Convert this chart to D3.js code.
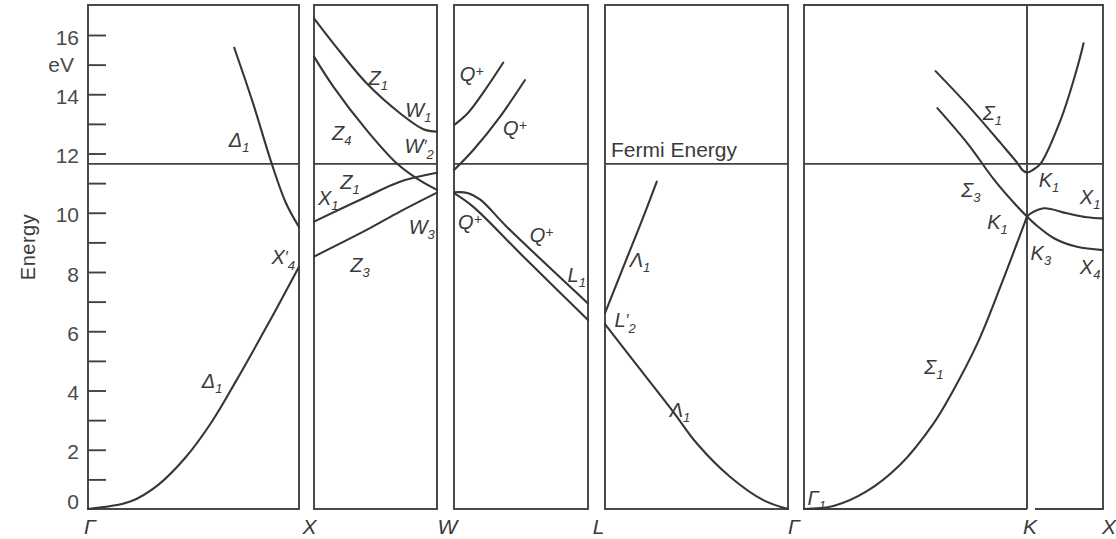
<!DOCTYPE html>
<html>
<head>
<meta charset="utf-8">
<script src="https://cdn.jsdelivr.net/npm/d3@7"></script>
<style>
  html, body { margin: 0; padding: 0; background: #fff; }
  svg { display: block; }
  .frame { fill: none; stroke: #424242; stroke-width: 1.9; }
  .band { fill: none; stroke: #363636; stroke-width: 2.1; stroke-linejoin: round; stroke-linecap: round; }
  .fermi { stroke: #424242; stroke-width: 1.8; }
  .tick line { stroke: #424242; stroke-width: 1.9; }
  .num { font-family: "Liberation Sans", Arial, sans-serif; font-size: 21px; fill: #4a4a4a; }
  .blabel { font-family: "Liberation Sans", Arial, sans-serif; font-style: italic; font-size: 20px; fill: #3a3a3a; }
  .plabel { font-family: "Liberation Sans", Arial, sans-serif; font-style: italic; font-size: 21px; fill: #3a3a3a; }
  .title { font-family: "Liberation Sans", Arial, sans-serif; font-size: 20px; fill: #3a3a3a; }
</style>
</head>
<body>
<svg id="chart" width="1116" height="539"></svg>
<script>
// Band structure of aluminium along Γ–X–W–L–Γ–K–X, energies in eV.

// Path segments and symmetry points along the bottom
const segmentNames = ["ΓX", "XW", "WL", "LΓ", "ΓKX"];
const pointLabels = ["Γ", "X", "W", "L", "Γ", "K", "X"];

// Energy axis
const energyTicks = d3.range(1, 17);
const energyLabels = [0, 2, 4, 6, 8, 10, 12, 14, 16];
const fermiEnergy = 11.65;

// Bands as [k, E]; k runs 0→1 along each segment (ΓKX: Γ=0, K=1, X=2)
const gxDelta1Lower = [[0, 0], [0.2, 0.25], [0.33, 0.8], [0.46, 1.72], [0.59, 2.98], [0.70, 4.3], [0.85, 6.2], [1, 8.18]];
const gxDelta1Upper = [[0.693, 15.57], [0.782, 13.70], [0.871, 11.65], [0.938, 10.33], [1, 9.52]];

const xwZ1Upper = [[0, 16.56], [0.157, 15.72], [0.428, 14.37], [0.699, 13.36], [0.889, 12.82], [1, 12.74]];
const xwZ4 = [[0, 15.27], [0.157, 14.26], [0.428, 12.79], [0.672, 11.67], [0.835, 11.16], [1, 10.77]];
const xwZ1Lower = [[0, 9.70], [0.428, 10.54], [0.699, 11.05], [1, 11.35]];
const xwZ3 = [[0, 8.52], [0.428, 9.42], [0.699, 10.04], [1, 10.68]];

const wlQ1 = [[0, 12.96], [0.104, 13.37], [0.231, 14.14], [0.368, 15.07]];
const wlQ2 = [[0, 11.44], [0.144, 12.12], [0.343, 13.24], [0.53, 14.48]];
const wlQ3 = [[0, 10.69], [0.1, 10.67], [0.194, 10.45], [0.393, 9.53], [1, 6.94]];
const wlQ4 = [[0, 10.66], [0.144, 10.20], [0.517, 8.52], [1, 6.38]];

const lgLambda1Upper = [[0, 6.61], [0.137, 8.74], [0.21, 9.87], [0.283, 11.05]];
const lgLambda1Lower = [[0, 6.24], [0.137, 5.15], [0.373, 3.28], [0.501, 2.22], [0.683, 1.09], [0.865, 0.30], [1, 0]];

const gkSigma1Lower = [[0, 0], [0.132, 0.1], [0.282, 0.6], [0.432, 1.5], [0.582, 2.9], [0.658, 3.85], [0.778, 5.6], [0.883, 7.55], [1, 9.87]];
const gkSigma3 = [[0.598, 13.53], [0.733, 12.34], [0.853, 11.11], [0.943, 10.32], [1, 9.87]];
const gkSigma1Upper = [[0.59, 14.78], [0.733, 13.64], [0.883, 12.34], [0.958, 11.67], [0.98, 11.44], [1, 11.36],
                       [1.074, 11.44], [1.182, 11.67], [1.442, 13.13], [1.614, 14.48], [1.744, 15.72]];
const kxX1 = [[1, 9.87], [1.05, 9.98], [1.225, 10.15], [1.528, 9.98], [1.788, 9.85], [2, 9.81]];
const kxX4 = [[1, 9.87], [1.095, 9.64], [1.355, 9.14], [1.658, 8.85], [2, 8.74]];

const bands = [
  { seg: 0, pts: gxDelta1Lower }, { seg: 0, pts: gxDelta1Upper },
  { seg: 1, pts: xwZ1Upper }, { seg: 1, pts: xwZ4 }, { seg: 1, pts: xwZ1Lower }, { seg: 1, pts: xwZ3 },
  { seg: 2, pts: wlQ1 }, { seg: 2, pts: wlQ2 }, { seg: 2, pts: wlQ3 }, { seg: 2, pts: wlQ4 },
  { seg: 3, pts: lgLambda1Upper }, { seg: 3, pts: lgLambda1Lower },
  { seg: 4, pts: gkSigma1Lower }, { seg: 4, pts: gkSigma3 }, { seg: 4, pts: gkSigma1Upper },
  { seg: 4, pts: kxX1 }, { seg: 4, pts: kxX4 }
];

// Symmetry labels written beside the bands
const bandLabels = [
  { seg: 0, k: 0.716, e: 12.46, main: "Δ", sub: "1" },
  { seg: 0, k: 0.588, e: 4.32, main: "Δ", sub: "1" },
  { seg: 0, k: 0.925, e: 8.51, main: "X", sub: "4", prime: true },
  { seg: 1, k: 0.523, e: 14.54, main: "Z", sub: "1" },
  { seg: 1, k: 0.848, e: 13.47, main: "W", sub: "1" },
  { seg: 1, k: 0.225, e: 12.68, main: "Z", sub: "4" },
  { seg: 1, k: 0.855, e: 12.25, main: "W", sub: "2", prime: true },
  { seg: 1, k: 0.293, e: 11.05, main: "Z", sub: "1" },
  { seg: 1, k: 0.116, e: 10.49, main: "X", sub: "1" },
  { seg: 1, k: 0.876, e: 9.53, main: "W", sub: "3" },
  { seg: 1, k: 0.374, e: 8.24, main: "Z", sub: "3" },
  { seg: 2, k: 0.132, e: 14.68, main: "Q", sup: "+" },
  { seg: 2, k: 0.455, e: 12.85, main: "Q", sup: "+" },
  { seg: 2, k: 0.119, e: 9.70, main: "Q", sup: "+" },
  { seg: 2, k: 0.654, e: 9.25, main: "Q", sup: "+" },
  { seg: 2, k: 0.916, e: 7.90, main: "L", sub: "1" },
  { seg: 3, k: 0.191, e: 8.41, main: "Λ", sub: "1" },
  { seg: 3, k: 0.11, e: 6.38, main: "L", sub: "2", prime: true },
  { seg: 3, k: 0.41, e: 3.34, main: "Λ", sub: "1" },
  { seg: 4, k: 0.845, e: 13.36, main: "Σ", sub: "1" },
  { seg: 4, k: 0.748, e: 10.77, main: "Σ", sub: "3" },
  { seg: 4, k: 1.29, e: 11.11, main: "K", sub: "1" },
  { seg: 4, k: 1.831, e: 10.54, main: "X", sub: "1" },
  { seg: 4, k: 0.868, e: 9.70, main: "K", sub: "1" },
  { seg: 4, k: 1.182, e: 8.63, main: "K", sub: "3" },
  { seg: 4, k: 1.831, e: 8.18, main: "X", sub: "4" },
  { seg: 4, k: 0.582, e: 4.80, main: "Σ", sub: "1" },
  { seg: 4, k: 0.057, e: 0.36, main: "Γ", sub: "1" }
];

// ---- layout ----
const svg = d3.select("#chart");
const frameTop = 5;
const y = d3.scaleLinear().domain([0, 16]).range([509, 35]);
const frameBottom = y(0);

const panelRanges = [[88, 299], [314, 437], [454, 588], [605, 788], [804, 1027, 1103]];
const xScales = panelRanges.map(r =>
  d3.scaleLinear().domain(r.length === 3 ? [0, 1, 2] : [0, 1]).range(r));

const gFrames = svg.append("g");
const gBands = svg.append("g");
const gText = svg.append("g");

// panel frames and the Fermi level
xScales.forEach((xs, i) => {
  const [x0, x1] = [xs.range()[0], xs.range()[xs.range().length - 1]];
  if (i < 4) {
    gFrames.append("rect").attr("class", "frame")
      .attr("x", x0).attr("y", frameTop).attr("width", x1 - x0).attr("height", frameBottom - frameTop);
  } else {
    const xk = xs(1);
    const p = d3.path();
    p.moveTo(xk, frameBottom); p.lineTo(x0, frameBottom); p.lineTo(x0, frameTop);
    p.lineTo(x1, frameTop); p.lineTo(x1, frameBottom); p.lineTo(xk + 8, frameBottom);
    p.moveTo(xk, frameTop); p.lineTo(xk, frameBottom);
    gFrames.append("path").attr("class", "frame").attr("d", p.toString());
  }
  gFrames.append("line").attr("class", "fermi")
    .attr("x1", x0).attr("x2", x1).attr("y1", y(fermiEnergy)).attr("y2", y(fermiEnergy));
});

// inward ticks on the energy axis
const axis = d3.axisRight(y).tickValues(energyTicks).tickSize(18).tickFormat("");
const gAxis = gFrames.append("g").attr("transform", `translate(${panelRanges[0][0]},0)`).call(axis);
gAxis.select(".domain").remove();

gText.selectAll("text.num").data(energyLabels).join("text")
  .attr("class", "num")
  .attr("x", 79)
  .attr("y", d => (d === 0 ? y(d) - 8 : y(d) + 2) + 7.5)
  .attr("text-anchor", "end")
  .text(d => d);

gText.append("text").attr("class", "num").attr("x", 74).attr("y", y(15) + 7)
  .attr("text-anchor", "end").text("eV");

gText.append("text").attr("class", "title")
  .attr("transform", `translate(35,247) rotate(-90)`)
  .attr("text-anchor", "middle").style("letter-spacing", "0.5px").text("Energy");

// bands
const bandLine = xs => d3.line().x(d => xs(d[0])).y(d => y(d[1])).curve(d3.curveCatmullRom.alpha(0.5));
bands.forEach(b => {
  gBands.append("path").attr("class", "band").attr("d", bandLine(xScales[b.seg])(b.pts));
});

// band labels
bandLabels.forEach(d => {
  const xs = xScales[d.seg];
  const t = gText.append("text").attr("class", "blabel")
    .attr("x", xs(d.k)).attr("y", y(d.e) + 7).attr("text-anchor", "middle");
  t.append("tspan").text(d.main);
  if (d.prime) t.append("tspan").attr("font-size", 16).attr("dy", -1).text("′");
  if (d.sup) t.append("tspan").attr("font-size", 14).attr("dy", -5).text(d.sup);
  if (d.sub) t.append("tspan").attr("font-size", 13)
    .attr("dy", d.prime ? 7 : 5).text(d.sub);
});

// Fermi energy caption
gText.append("text").attr("class", "title")
  .attr("x", xScales[3](0) + 6).attr("y", y(fermiEnergy) - 7)
  .style("font-size", "21px").text("Fermi Energy");

// symmetry points along the bottom
const boundaries = [
  xScales[0](0) + 2,
  (xScales[0](1) + xScales[1](0)) / 2 + 3,
  (xScales[1](1) + xScales[2](0)) / 2 + 2,
  (xScales[2](1) + xScales[3](0)) / 2 + 2,
  (xScales[3](1) + xScales[4](0)) / 2 - 2,
  xScales[4](1) + 3,
  xScales[4](2) + 6
];
gText.selectAll("text.plabel").data(pointLabels).join("text")
  .attr("class", "plabel")
  .attr("x", (d, i) => boundaries[i])
  .attr("y", frameBottom + 25)
  .attr("text-anchor", "middle")
  .text(d => d);
</script>
</body>
</html>
